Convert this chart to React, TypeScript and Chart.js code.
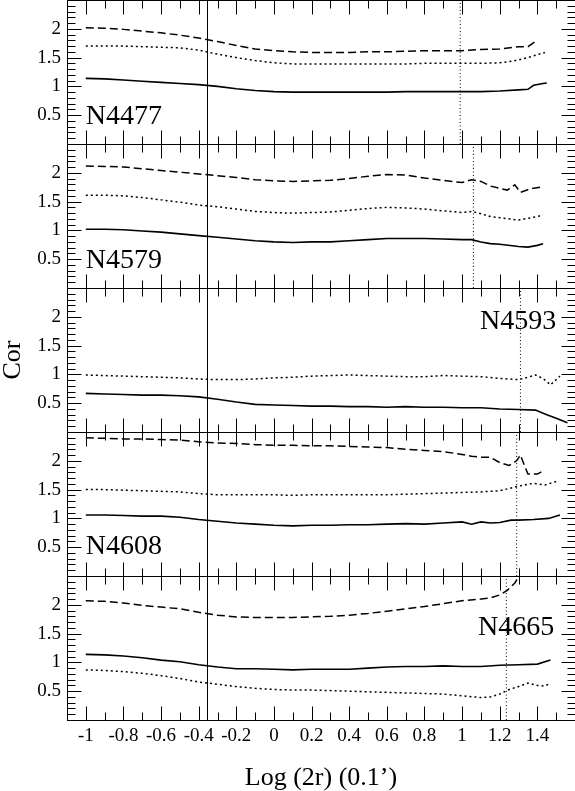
import { useEffect, useRef } from "react";
import { Chart, registerables } from "chart.js";

Chart.register(...registerables);

const SERIF = "'Liberation Serif', 'Times New Roman', serif";

// panel names, top to bottom
const panelNames = ["N4477", "N4579", "N4593", "N4608", "N4665"];

// axis ticks
const xTickValues = [-1, -0.8, -0.6, -0.4, -0.2, 0, 0.2, 0.4, 0.6, 0.8, 1, 1.2, 1.4];
const yTickValues = [0.5, 1, 1.5, 2];

// vertical marks: full-height solid line and per-panel dotted limits
const apertureX = -0.357;
const cutoffX = [0.99, 1.06, 1.31, 1.29, 1.235];

// common sampling in Log (2r)
const gridX = [-1, -0.9, -0.8, -0.7, -0.6, -0.5, -0.4, -0.3, -0.2, -0.1, 0, 0.1, 0.2, 0.3, 0.4, 0.5, 0.6, 0.7, 0.8, 0.9, 1.0];

// N4477
const n4477SolidX = [...gridX, 1.1, 1.2, 1.3, 1.35, 1.38, 1.43, 1.45];
const n4477SolidY = [1.14, 1.13, 1.11, 1.09, 1.07, 1.05, 1.03, 1.0, 0.96, 0.93, 0.91, 0.9, 0.9, 0.9, 0.9, 0.9, 0.9, 0.91, 0.91, 0.91, 0.91, 0.91, 0.92, 0.94, 0.95, 1.02, 1.05, 1.06];
const n4477DottedX = [...gridX, 1.1, 1.2, 1.25, 1.3, 1.35, 1.4, 1.44];
const n4477DottedY = [1.7, 1.7, 1.7, 1.69, 1.68, 1.67, 1.63, 1.56, 1.5, 1.45, 1.41, 1.39, 1.39, 1.39, 1.39, 1.39, 1.39, 1.39, 1.4, 1.4, 1.4, 1.4, 1.41, 1.43, 1.46, 1.5, 1.55, 1.59];
const n4477DashedX = [...gridX, 1.1, 1.2, 1.3, 1.35, 1.39];
const n4477DashedY = [2.02, 2.01, 1.99, 1.96, 1.93, 1.89, 1.84, 1.78, 1.71, 1.65, 1.62, 1.6, 1.59, 1.59, 1.59, 1.6, 1.6, 1.61, 1.62, 1.62, 1.62, 1.64, 1.65, 1.69, 1.69, 1.78];

// N4579
const n4579SolidX = [...gridX, 1.05, 1.1, 1.15, 1.2, 1.3, 1.35, 1.4, 1.43];
const n4579SolidY = [1.02, 1.02, 1.01, 0.99, 0.97, 0.94, 0.91, 0.88, 0.85, 0.82, 0.8, 0.79, 0.8, 0.8, 0.82, 0.84, 0.86, 0.86, 0.86, 0.85, 0.84, 0.84, 0.8, 0.77, 0.76, 0.72, 0.71, 0.74, 0.77];
const n4579DottedX = [...gridX, 1.05, 1.1, 1.15, 1.2, 1.3, 1.35, 1.4, 1.43];
const n4579DottedY = [1.61, 1.61, 1.6, 1.57, 1.53, 1.49, 1.44, 1.41, 1.37, 1.33, 1.31, 1.3, 1.31, 1.32, 1.35, 1.38, 1.4, 1.39, 1.37, 1.34, 1.31, 1.33, 1.29, 1.24, 1.22, 1.18, 1.21, 1.24, 1.27];
const n4579DashedX = [...gridX, 1.05, 1.1, 1.15, 1.2, 1.24, 1.28, 1.31, 1.36, 1.42];
const n4579DashedY = [2.12, 2.11, 2.1, 2.07, 2.04, 2.01, 1.98, 1.95, 1.92, 1.88, 1.86, 1.85, 1.86, 1.87, 1.9, 1.94, 1.97, 1.96, 1.91, 1.87, 1.83, 1.88, 1.85, 1.77, 1.73, 1.7, 1.79, 1.66, 1.72, 1.75];

// N4593 (no dashed profile)
const n4593SolidX = [...gridX, 1.1, 1.2, 1.3, 1.39, 1.45, 1.5, 1.56];
const n4593SolidY = [0.67, 0.66, 0.65, 0.64, 0.64, 0.63, 0.61, 0.57, 0.52, 0.48, 0.47, 0.46, 0.45, 0.45, 0.44, 0.44, 0.43, 0.44, 0.43, 0.43, 0.42, 0.42, 0.4, 0.39, 0.38, 0.3, 0.24, 0.16];
const n4593DottedX = [...gridX, 1.1, 1.2, 1.3, 1.35, 1.39, 1.43, 1.47, 1.52];
const n4593DottedY = [0.99, 0.98, 0.97, 0.96, 0.95, 0.94, 0.92, 0.91, 0.91, 0.92, 0.94, 0.95, 0.97, 0.98, 0.99, 0.98, 0.97, 0.96, 0.96, 0.98, 0.97, 0.96, 0.93, 0.91, 0.95, 0.99, 0.93, 0.82, 0.97];

// N4608
const n4608SolidX = [...gridX, 1.05, 1.1, 1.15, 1.2, 1.26, 1.3, 1.38, 1.46, 1.52];
const n4608SolidY = [1.06, 1.06, 1.05, 1.04, 1.04, 1.02, 0.98, 0.95, 0.92, 0.9, 0.88, 0.87, 0.88, 0.88, 0.89, 0.89, 0.9, 0.91, 0.9, 0.92, 0.94, 0.9, 0.94, 0.92, 0.93, 0.97, 0.97, 0.98, 1.0, 1.06];
const n4608DottedX = [...gridX, 1.1, 1.2, 1.25, 1.3, 1.38, 1.44, 1.5];
const n4608DottedY = [1.5, 1.5, 1.49, 1.48, 1.47, 1.46, 1.43, 1.41, 1.41, 1.41, 1.41, 1.4, 1.41, 1.41, 1.41, 1.41, 1.41, 1.42, 1.43, 1.44, 1.45, 1.46, 1.48, 1.52, 1.56, 1.61, 1.58, 1.64];
const n4608DashedX = [...gridX, 1.05, 1.1, 1.15, 1.2, 1.25, 1.29, 1.31, 1.33, 1.35, 1.4, 1.44];
const n4608DashedY = [2.4, 2.39, 2.38, 2.38, 2.37, 2.36, 2.33, 2.31, 2.3, 2.28, 2.27, 2.27, 2.26, 2.26, 2.25, 2.24, 2.23, 2.2, 2.18, 2.16, 2.11, 2.08, 2.06, 2.06, 1.97, 1.92, 2.0, 2.1, 1.93, 1.77, 1.77, 1.84];

// N4665
const n4665SolidX = [...gridX, 1.1, 1.2, 1.3, 1.4, 1.47];
const n4665SolidY = [1.14, 1.13, 1.11, 1.08, 1.04, 1.01, 0.96, 0.92, 0.89, 0.89, 0.88, 0.87, 0.88, 0.88, 0.88, 0.9, 0.92, 0.93, 0.93, 0.94, 0.93, 0.93, 0.95, 0.96, 0.97, 1.04];
const n4665DottedX = [...gridX, 1.1, 1.15, 1.2, 1.25, 1.3, 1.35, 1.4, 1.44, 1.47];
const n4665DottedY = [0.87, 0.86, 0.84, 0.81, 0.77, 0.72, 0.66, 0.62, 0.58, 0.55, 0.53, 0.52, 0.52, 0.51, 0.5, 0.49, 0.48, 0.47, 0.46, 0.45, 0.42, 0.39, 0.4, 0.45, 0.53, 0.58, 0.64, 0.6, 0.59, 0.64];
const n4665DashedX = [...gridX, 1.1, 1.15, 1.2, 1.24, 1.28, 1.3];
const n4665DashedY = [2.07, 2.06, 2.03, 1.99, 1.96, 1.93, 1.87, 1.82, 1.79, 1.78, 1.78, 1.78, 1.79, 1.8, 1.82, 1.85, 1.89, 1.93, 1.97, 2.02, 2.07, 2.1, 2.12, 2.17, 2.25, 2.38, 2.48];

type Series = [number[], number[]] | null;
const panelSeries: { solid: Series; dotted: Series; dashed: Series }[] = [
  { solid: [n4477SolidX, n4477SolidY], dotted: [n4477DottedX, n4477DottedY], dashed: [n4477DashedX, n4477DashedY] },
  { solid: [n4579SolidX, n4579SolidY], dotted: [n4579DottedX, n4579DottedY], dashed: [n4579DashedX, n4579DashedY] },
  { solid: [n4593SolidX, n4593SolidY], dotted: [n4593DottedX, n4593DottedY], dashed: null },
  { solid: [n4608SolidX, n4608SolidY], dotted: [n4608DottedX, n4608DottedY], dashed: [n4608DashedX, n4608DashedY] },
  { solid: [n4665SolidX, n4665SolidY], dotted: [n4665DottedX, n4665DottedY], dashed: [n4665DashedX, n4665DashedY] },
];

// where the galaxy names sit (in data units of each panel)
const nameAnchors: { x: number; y: number; align: CanvasTextAlign }[] = [
  { x: -1.0, y: 0.35, align: "left" },
  { x: -1.0, y: 0.35, align: "left" },
  { x: 1.5, y: 1.79, align: "right" },
  { x: -1.0, y: 0.39, align: "left" },
  { x: 1.49, y: 1.48, align: "right" },
];

const lineStyles = {
  solid: { borderDash: [] as number[], borderWidth: 1.6 },
  dotted: { borderDash: [2, 3], borderWidth: 1.5 },
  dashed: { borderDash: [8, 4], borderWidth: 1.5 },
};

const toPoints = (xs: number[], ys: number[]) => xs.map((x, i) => ({ x, y: ys[i] }));

const framePlugin = {
  id: "frame",
  afterDraw(chart: Chart) {
    const { ctx, chartArea } = chart;
    const { left, right, top, bottom } = chartArea;
    const xs = chart.scales.x;
    const L = Math.round(left) + 0.5;
    const R = Math.round(right) + 0.5;

    ctx.save();
    ctx.strokeStyle = "#000";
    ctx.fillStyle = "#000";
    ctx.lineWidth = 1;
    ctx.setLineDash([]);

    const seg = (x1: number, y1: number, x2: number, y2: number) => {
      ctx.beginPath();
      ctx.moveTo(x1, y1);
      ctx.lineTo(x2, y2);
      ctx.stroke();
    };

    // full-height solid line
    const ax = Math.round(xs.getPixelForValue(apertureX)) + 0.5;
    seg(ax, top, ax, bottom);

    panelNames.forEach((name, k) => {
      const ys = chart.scales["y" + k];
      const t = Math.round(ys.top) + 0.5;
      const b = Math.round(ys.bottom) + 0.5;
      ctx.strokeRect(L, t, R - L, b - t);

      // x ticks, inward on top and bottom edge
      for (let i = -10; i <= 15; i++) {
        const px = Math.round(xs.getPixelForValue(i / 10)) + 0.5;
        const len = i % 2 === 0 ? 14 : 8;
        seg(px, b, px, b - len);
        seg(px, t, px, t + len);
      }
      // y ticks, inward on left and right edge
      for (let i = 1; i <= 24; i++) {
        const py = Math.round(ys.getPixelForValue(i / 10)) + 0.5;
        const len = i % 5 === 0 ? 14 : 8;
        seg(L, py, L + len, py);
        seg(R, py, R - len, py);
      }

      const a = nameAnchors[k];
      ctx.font = `28px ${SERIF}`;
      ctx.textAlign = a.align;
      ctx.textBaseline = "alphabetic";
      ctx.fillText(name, xs.getPixelForValue(a.x), ys.getPixelForValue(a.y));
    });

    // y-axis title
    ctx.translate(13, (top + bottom) / 2);
    ctx.rotate(-Math.PI / 2);
    ctx.font = `26px ${SERIF}`;
    ctx.textAlign = "center";
    ctx.textBaseline = "middle";
    ctx.fillText("Cor", 0, 0);
    ctx.restore();
  },
};

export default function App() {
  const ref = useRef<HTMLCanvasElement | null>(null);

  useEffect(() => {
    if (!ref.current) return;

    const datasets: any[] = [];
    panelSeries.forEach((p, k) => {
      (["solid", "dotted", "dashed"] as const).forEach((kind) => {
        const s = p[kind];
        if (!s) return;
        datasets.push({
          label: `${panelNames[k]} ${kind}`,
          data: toPoints(s[0], s[1]),
          xAxisID: "x",
          yAxisID: "y" + k,
          borderColor: "#000",
          borderWidth: lineStyles[kind].borderWidth,
          borderDash: lineStyles[kind].borderDash,
          pointRadius: 0,
          fill: false,
          tension: 0,
        });
      });
      datasets.push({
        label: `${panelNames[k]} limit`,
        data: [
          { x: cutoffX[k], y: 0 },
          { x: cutoffX[k], y: 2.5 },
        ],
        xAxisID: "x",
        yAxisID: "y" + k,
        borderColor: "#000",
        borderWidth: 1,
        borderDash: [1, 2.5],
        pointRadius: 0,
        fill: false,
      });
    });

    const tickFont = { family: SERIF, size: 19 };
    const scales: any = {
      x: {
        type: "linear",
        position: "bottom",
        min: -1.1,
        max: 1.6,
        grid: { display: false, drawTicks: false },
        border: { display: false },
        afterBuildTicks: (s: any) => {
          s.ticks = xTickValues.map((v) => ({ value: v }));
        },
        ticks: {
          font: tickFont,
          color: "#000",
          padding: 5,
          autoSkip: false,
          maxRotation: 0,
          callback: (v: number) => String(v),
        },
        title: {
          display: true,
          text: "Log (2r) (0.1’)",
          color: "#000",
          font: { family: SERIF, size: 26, lineHeight: 1 },
          padding: { top: 0, bottom: 0 },
        },
        afterFit: (s: any) => {
          s.height = 71;
          s.paddingLeft = 0;
          s.paddingRight = 0;
        },
      },
    };
    panelNames.forEach((_, k) => {
      scales["y" + k] = {
        type: "linear",
        position: "left",
        stack: "panels",
        stackWeight: 1,
        weight: 5 - k,
        min: 0,
        max: 2.5,
        grid: { display: false, drawTicks: false },
        border: { display: false },
        afterBuildTicks: (s: any) => {
          s.ticks = yTickValues.map((v) => ({ value: v }));
        },
        ticks: {
          font: tickFont,
          color: "#000",
          padding: 6,
          callback: (v: number) => String(v),
        },
        afterFit: (s: any) => {
          s.width = 67;
          s.paddingTop = 0;
          s.paddingBottom = 0;
        },
      };
    });

    const chart = new Chart(ref.current, {
      type: "line",
      data: { datasets },
      options: {
        responsive: false,
        animation: false,
        layout: { padding: 0 },
        plugins: {
          legend: { display: false },
          tooltip: { enabled: false },
        },
        scales,
      },
      plugins: [framePlugin],
    });

    return () => chart.destroy();
  }, []);

  return (
    <div style={{ position: "fixed", left: 0, top: 0, width: 575, height: 791, background: "#fff" }}>
      <canvas ref={ref} width={575} height={791} style={{ display: "block" }} />
    </div>
  );
}
